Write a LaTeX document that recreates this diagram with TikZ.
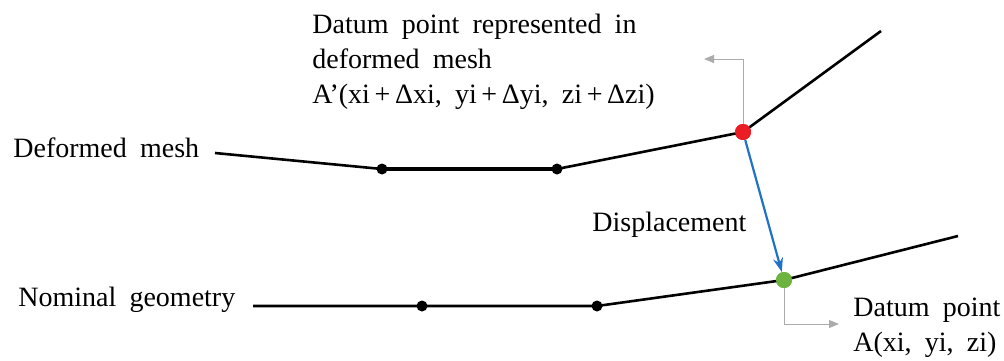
\documentclass[tikz,border=0pt]{standalone}
\usepackage{fontspec}
\setmainfont{Liberation Serif}
\usetikzlibrary{arrows.meta}
\definecolor{kRed}{HTML}{EC1C24}
\definecolor{kGreen}{HTML}{6DB33F}
\definecolor{kBlue}{HTML}{1F72C6}
\definecolor{kGrey}{HTML}{ABABAB}
\newcommand{\lbl}{\fontsize{14}{17.5}\selectfont\spaceskip=0.47em\relax}

\begin{document}
\begin{tikzpicture}[x=0.5pt, y=-0.5pt, >=Stealth,
      every node/.style={inner sep=0pt, font=\lbl},
      mesh/.style={line width=1.3pt, line join=round},
      knot/.style={circle, fill=black, minimum size=5.5pt},
      datum/.style={circle, minimum size=8pt},
      lead/.style={draw=kGrey, line width=0.5pt, -{Triangle[length=5pt, width=4pt]}}]
      \useasboundingbox (0,0) rectangle (1004,360);
      % deformed mesh
      \coordinate (d0) at (215,153);
      \coordinate (d3) at (881,31);
      \node[knot] (d1) at (382,169) {};
      \node[knot] (d2) at (557,169) {};
      \node[datum, fill=kRed] (dA) at (743,132) {};
      % nominal geometry
      \coordinate (n0) at (253,306);
      \coordinate (n3) at (958,236);
      \node[knot] (n1) at (422,306) {};
      \node[knot] (n2) at (597,306) {};
      \node[datum, fill=kGreen] (nA) at (784,280) {};
      \draw[mesh] (d0)--(d1.center); \draw[mesh, line width=1.8pt] (d1.center)--(d2.center);
      \draw[mesh] (d2.center)--(dA.center)--(d3);
      \draw[mesh] (n0)--(n1.center)--(n2.center)--(nA.center)--(n3);
      \node[datum, fill=kRed] at (dA) {};
      \node[datum, fill=kGreen] at (nA) {};
      % labels
      \node[anchor=base west] (ldef) at (13,157) {Deformed mesh};
      \node[anchor=base west] (lnom) at (18,306) {Nominal geometry};
      \node[anchor=base west] (ldis) at (592,231) {Displacement};
      \node[anchor=north west, align=left] (ltop) at (312,14)
        {Datum point represented in\\deformed mesh\\A'(xi\,+\,Δxi, yi\,+\,Δyi, zi\,+\,Δzi)};
      \node[anchor=north west, align=left] (lbot) at (853,298) {Datum point\\A(xi, yi, zi)};
      % connectors
      \coordinate (tA) at (704,59);
      \coordinate (tB) at (839,324);
      \draw[lead] (dA.north) |- (tA);
      \draw[lead] (nA.south) |- (tB);
      \draw[-{Stealth[length=7pt, width=5pt]}, kBlue, line width=1.1pt] (dA)--(nA);
    \end{tikzpicture}
\end{document}
